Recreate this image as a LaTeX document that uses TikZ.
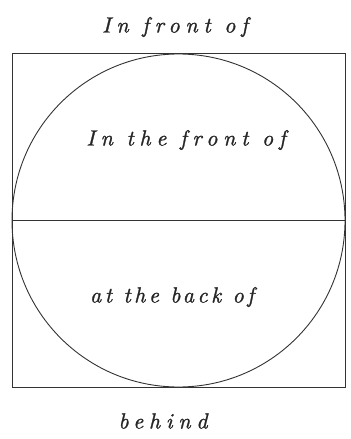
\documentclass[tikz,border=0pt]{standalone}
\usepackage{fontspec}
\newfontfamily\spacedit{lmroman10-italic.otf}[LetterSpace=26,FakeBold=1.2]
\newfontfamily\tighterit{lmroman10-italic.otf}[LetterSpace=16,FakeBold=1.2]
\begin{document}
\begin{tikzpicture}[x=1bp,y=-1bp,
  lineart/.style={draw=black!80,line width=0.9bp},
  lbl/.style={inner sep=0pt,anchor=center,text=black!85,font=\fontsize{22}{25}\selectfont\spacedit}]
\useasboundingbox (0,0) rectangle (350,439);
\node[lineart,rectangle,minimum width=333bp,minimum height=334bp,inner sep=0pt] (box) at (178.5,220.5) {};
\node[lineart,circle,minimum size=333bp,inner sep=0pt] (disc) at (178.5,220.5) {};
\draw[lineart] (box.west) -- (box.east);
\node[lbl] (top) at (175,27) {In front of};
\node[lbl] (upper) at (186,140) {In the front of};
\node[lbl,font=\fontsize{22}{25}\selectfont\tighterit] (lower) at (172,297) {at the back of};
\node[lbl] (bottom) at (163,421) {behind};
\end{tikzpicture}
\end{document}
